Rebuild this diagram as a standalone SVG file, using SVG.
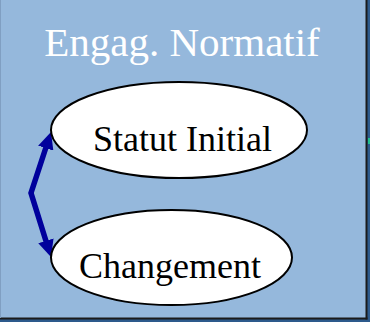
<svg xmlns="http://www.w3.org/2000/svg" width="370" height="322" viewBox="0 0 370 322">
  <style>
    .node ellipse { fill: #ffffff; stroke: #000000; stroke-width: 2; }
    .label { font-family: "Liberation Serif", "Times New Roman", serif; text-anchor: middle; }
    .node text { font-size: 36px; fill: #000000; }
    .title { font-size: 41px; fill: #ffffff; }
    .link { fill: none; stroke: #00009c; stroke-width: 5.5; stroke-linejoin: miter; }
  </style>
  <defs>
    <marker id="head" viewBox="0 0 17 16" refX="7" refY="8" markerWidth="17" markerHeight="16" orient="auto-start-reverse" markerUnits="userSpaceOnUse">
      <path d="M0,0 L17,8 L0,16 Z" fill="#00009c"/>
    </marker>
  </defs>

  <!-- panel with dark edge and shadow strip on the right and bottom -->
  <rect x="0" y="0" width="370" height="322" fill="#2d5a8c"/>
  <rect x="0" y="0" width="367" height="319" fill="#95b8dc"/>
  <rect x="365.5" y="0" width="2" height="319.5" fill="#1a1a1a"/>
  <rect x="0" y="317.5" width="367.5" height="2" fill="#1a1a1a"/>
  <rect x="0" y="0" width="1" height="318" fill="#809fc2"/>
  <rect x="368" y="138" width="2" height="6" fill="#1fbf8f"/>

  <g id="group-title">
    <text class="label title" x="182" y="56">Engag. Normatif</text>
  </g>

  <g id="connectors">
    <path class="link" d="M47.9,141.5 L31,193 L48,247.5" marker-start="url(#head)" marker-end="url(#head)"/>
  </g>

  <g id="node-statut" class="node">
    <ellipse cx="179" cy="130" rx="128" ry="48"/>
    <text class="label" x="182.5" y="151">Statut Initial</text>
  </g>

  <g id="node-changement" class="node">
    <ellipse cx="171.5" cy="257.5" rx="120.5" ry="47.5"/>
    <text class="label" x="170" y="278">Changement</text>
  </g>
</svg>
